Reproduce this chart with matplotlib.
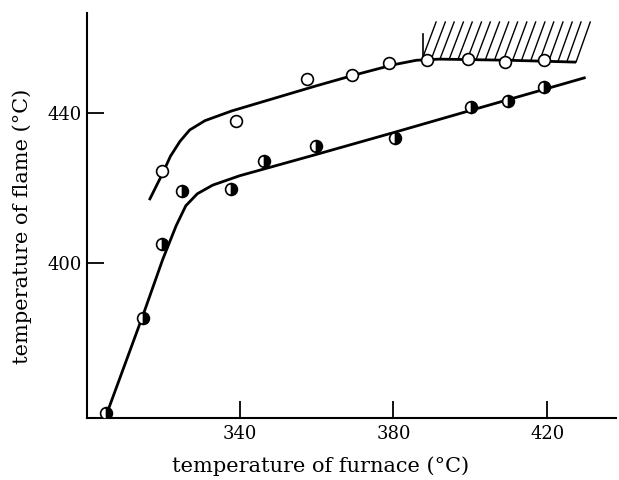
import matplotlib
matplotlib.use("Agg")
import matplotlib.pyplot as plt
import numpy as np

# ---- data ----
# half-filled circles (lower series)
low_x = [305.3, 314.8, 319.8, 325.0, 337.7, 346.3, 359.8, 380.3, 400.1, 409.8, 419.3]
low_y = [360.1, 385.4, 405.1, 419.3, 419.7, 427.3, 431.3, 433.4, 441.7, 443.3, 447.0]
# open circles (upper series)
up_x = [319.9, 339.1, 357.6, 369.2, 378.8, 388.7, 399.3, 409.1, 419.3]
up_y = [424.6, 437.9, 449.1, 450.1, 453.4, 454.1, 454.5, 453.7, 454.1]

# hand-drawn curves (vertices)
low_cx = [305.5, 315.0, 320.0, 323.5, 326.0, 329.0, 333.0, 340.0, 360.0, 380.0, 400.0, 430.0]
low_cy = [360.0, 386.5, 401.0, 410.0, 415.3, 418.5, 420.8, 423.3, 429.0, 434.8, 440.7, 449.5]
up_cx = [316.5, 320.0, 322.0, 324.5, 327.0, 331.0, 338.0, 360.0, 370.0, 380.0, 386.0, 392.0, 410.0, 427.5]
up_cy = [416.8, 424.0, 428.5, 432.5, 435.5, 438.0, 440.6, 447.3, 450.2, 452.9, 454.1, 454.4, 454.1, 453.6]

# forbidden region (hatched) boundary
hatch_wall_x = 387.6
hatch_wall_top = 461.1
hatch_top_y = 464.3
hatch_top_x = [391.1, 393.5, 395.8, 398.2, 400.5, 402.9, 405.2, 407.6, 410.0, 412.3,
               414.7, 417.0, 419.4, 421.7, 424.1, 426.5, 428.8, 431.2]
hatch_dx = 3.7

xticks = [340, 380, 420]
yticks = [400, 440]
xlabel = "temperature of furnace (°C)"
ylabel = "temperature of flame (°C)"

plt.rcParams['font.family'] = ['DejaVu Serif']

fig = plt.figure(figsize=(6.19, 4.8), dpi=100)
ax = fig.add_axes([87/619, 62/480, (616-87)/619, (418-13)/480])
ax.set_xlim(300.3, 437.9)
ax.set_ylim(358.7, 466.7)

for s in ['top', 'right']:
    ax.spines[s].set_visible(False)
for s in ['left', 'bottom']:
    ax.spines[s].set_linewidth(1.5)

lw = 2.0
ax.plot(low_cx, low_cy, color='black', lw=lw, zorder=2, solid_capstyle='butt')
ax.plot(up_cx, up_cy, color='black', lw=lw, zorder=2, solid_capstyle='butt')

# hatching
ax.plot([hatch_wall_x, hatch_wall_x], [np.interp(hatch_wall_x, up_cx, up_cy), hatch_wall_top],
        color='black', lw=1.2, zorder=2)
for xt in hatch_top_x:
    xb = xt - hatch_dx
    yb = np.interp(xb, up_cx, up_cy)
    if xb < hatch_wall_x:
        # clip at the wall
        frac = (hatch_wall_x - xb) / hatch_dx
        yb = yb + frac * (hatch_top_y - yb)
        xb = hatch_wall_x
    ax.plot([xb, xt], [yb, hatch_top_y], color='black', lw=1.0, zorder=1)

ax.plot(low_x, low_y, linestyle='none', marker='o', markersize=8.5,
        fillstyle='right', markerfacecolor='black', markerfacecoloralt='white',
        markeredgecolor='black', markeredgewidth=1.2, zorder=3)
ax.plot(up_x, up_y, linestyle='none', marker='o', markersize=8.5,
        markerfacecolor='white', markeredgecolor='black', markeredgewidth=1.2, zorder=3)

ax.set_xticks(xticks)
ax.set_yticks(yticks)
ax.tick_params(direction='in', length=12, width=1.3, labelsize=13, pad=4)
ax.tick_params(axis='x', pad=5)

fig.text(321/619, 1 - 466/480, xlabel, fontsize=15, ha='center', va='center')
fig.text(22/619, 1 - 226/480, ylabel, fontsize=15, ha='center', va='center',
         rotation=90, rotation_mode='anchor')

fig.savefig("out.png", dpi=100)
